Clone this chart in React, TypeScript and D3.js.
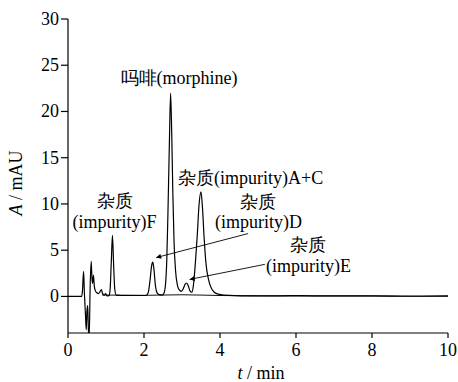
import React from "react";
import * as d3 from "d3";

// Chromatogram trace (time in min, absorbance in mAU)
const traceTime = [
  0.0, 0.36, 0.38, 0.41, 0.43, 0.46, 0.48, 0.5, 0.52, 0.54, 0.56, 0.58, 0.61, 0.63, 0.645, 0.67, 0.69, 0.72,
  0.76, 0.8, 0.84, 0.88, 0.91, 0.95, 0.99, 1.03, 1.08, 1.11, 1.14, 1.17, 1.2, 1.23, 1.27, 1.4, 1.7, 2.05,
  2.11, 2.16, 2.2, 2.23, 2.26, 2.3, 2.35, 2.4, 2.48, 2.53, 2.57, 2.6, 2.63, 2.67, 2.7, 2.73, 2.76, 2.79,
  2.83, 2.88, 2.93, 2.98, 3.03, 3.08, 3.12, 3.16, 3.21, 3.26, 3.3, 3.35, 3.4, 3.45, 3.5, 3.54, 3.58, 3.63,
  3.7, 3.77, 3.85, 3.95, 4.1, 5.0, 6.0, 7.0, 8.0, 9.0, 10.0,
];
const traceAbs = [
  0.0, 0.0, 0.6, 2.7, 0.5, -2.0, -3.6, -1.5, -1.0, -4.2, -4.2, 0.5, 3.8, 2.0, 1.4, 2.3, 1.2, 0.6,
  0.4, 0.3, 0.5, 0.75, 0.3, 0.15, 0.3, 0.05, 0.1, 0.9, 3.8, 6.6, 3.5, 0.8, 0.15, 0.1, 0.1, 0.1,
  0.4, 1.8, 3.3, 3.7, 3.0, 1.2, 0.35, 0.2, 0.15, 0.4, 1.5, 4.0, 9.0, 17.0, 22.0, 17.5, 11.0, 6.0,
  2.8, 1.2, 0.7, 0.55, 0.8, 1.3, 1.45, 1.2, 0.6, 0.45, 1.2, 3.5, 6.5, 10.0, 11.3, 9.5, 6.5, 3.6,
  1.8, 0.9, 0.45, 0.25, 0.15, 0.05, 0.08, 0.05, 0.06, 0.02, 0.05,
];
// Second (baseline) trace visible under the peaks
const baseTime = [0.9, 2.0, 3.0, 4.0, 6.0, 8.0, 10.0];
const baseAbs = [0.15, 0.12, 0.18, 0.1, 0.05, 0.05, 0.02];

const xTicks = [0, 2, 4, 6, 8, 10];
const yTicks = [0, 5, 10, 15, 20, 25, 30];
const xDomain = [0, 10];
const yDomain = [-3.9, 30];

const xTitle = "t";
const xUnit = " / min";
const yTitle = "A";
const yUnit = " / mAU";

const impurityCN = "杂质";
const morphineLabel = "吗啡(morphine)";
const acLabel = "杂质(impurity)A+C";
const fLabel = "(impurity)F";
const dLabel = "(impurity)D";
const eLabel = "(impurity)E";

const W = 458;
const H = 382;
const FONT = "Liberation Serif";

export default function App() {
  const x = d3.scaleLinear().domain(xDomain).range([68, 448]);
  const y = d3.scaleLinear().domain(yDomain).range([332.5, 19]);

  const trace = traceTime.map((t, i) => [t, traceAbs[i]] as [number, number]);
  const base = baseTime.map((t, i) => [t, baseAbs[i]] as [number, number]);
  const line = d3
    .line<[number, number]>()
    .x((d) => x(d[0]))
    .y((d) => y(d[1]))
    .curve(d3.curveMonotoneX);

  const axisY = y(yDomain[0]) + 0.5;
  const fs = 18;
  const ts = { fontFamily: FONT, fontSize: fs } as React.CSSProperties;

  // annotation arrows (from label to peak), in data units
  const arrows = [
    { from: [4.74, 6.8], to: [2.32, 4.2] },
    { from: [5.18, 3.47], to: [3.2, 1.84] },
  ];

  return (
    <svg
      width={W}
      height={H}
      style={{ position: "absolute", left: 0, top: 0, background: "#fff", fontFamily: FONT }}
    >
      <defs>
        <clipPath id="plotClip">
          <rect x={x(0)} y={0} width={x(10) - x(0) + 2} height={axisY} />
        </clipPath>
        <marker id="arrowHead" viewBox="0 0 10 10" refX="10" refY="5" markerWidth="7" markerHeight="5" orient="auto" markerUnits="userSpaceOnUse">
          <path d="M0,0 L10,5 L0,10 Z" fill="#000" />
        </marker>
      </defs>
      <rect width={W} height={H} fill="#fff" />

      {/* traces */}
      <g clipPath="url(#plotClip)">
        <path d={line(base) || ""} fill="none" stroke="#111" strokeWidth={1} />
        <path d={line(trace) || ""} fill="none" stroke="#000" strokeWidth={1.2} strokeLinejoin="round" />
      </g>

      {/* y axis */}
      <line x1={x(0)} x2={x(0)} y1={y(30)} y2={axisY} stroke="#000" strokeWidth={1.2} />
      {yTicks.map((v) => (
        <g key={"y" + v}>
          <line x1={x(0) - 7} x2={x(0)} y1={y(v)} y2={y(v)} stroke="#000" strokeWidth={1.2} />
          <text x={x(0) - 9} y={y(v)} dy="0.33em" textAnchor="end" style={ts}>
            {v}
          </text>
        </g>
      ))}

      {/* x axis */}
      <line x1={x(0)} x2={x(10)} y1={axisY} y2={axisY} stroke="#000" strokeWidth={1.2} />
      {xTicks.map((v) => (
        <g key={"x" + v}>
          <line x1={x(v)} x2={x(v)} y1={axisY} y2={axisY + 5} stroke="#000" strokeWidth={1.2} />
          <text x={x(v)} y={356} textAnchor="middle" style={ts}>
            {v}
          </text>
        </g>
      ))}

      {/* axis titles */}
      <text x={261} y={379} textAnchor="middle" style={ts}>
        <tspan fontStyle="italic">{xTitle}</tspan>
        {xUnit}
      </text>
      <text transform="translate(22,183) rotate(-90)" textAnchor="middle" style={ts}>
        <tspan fontStyle="italic">{yTitle}</tspan>
        {yUnit}
      </text>

      {/* peak labels */}
      <text x={179} y={84} textAnchor="middle" style={ts}>
        {morphineLabel}
      </text>
      <text x={178} y={184} textAnchor="start" style={ts}>
        {acLabel}
      </text>
      <text x={115} y={207} textAnchor="middle" style={ts}>
        {impurityCN}
      </text>
      <text x={114.5} y={228} textAnchor="middle" style={ts}>
        {fLabel}
      </text>
      <text x={258} y={208} textAnchor="middle" style={ts}>
        {impurityCN}
      </text>
      <text x={258.5} y={228} textAnchor="middle" style={ts}>
        {dLabel}
      </text>
      <text x={308} y={251} textAnchor="middle" style={ts}>
        {impurityCN}
      </text>
      <text x={308.5} y={272} textAnchor="middle" style={ts}>
        {eLabel}
      </text>

      {arrows.map((a, i) => (
        <line
          key={"a" + i}
          x1={x(a.from[0])}
          y1={y(a.from[1])}
          x2={x(a.to[0])}
          y2={y(a.to[1])}
          stroke="#000"
          strokeWidth={0.9}
          markerEnd="url(#arrowHead)"
        />
      ))}
    </svg>
  );
}
